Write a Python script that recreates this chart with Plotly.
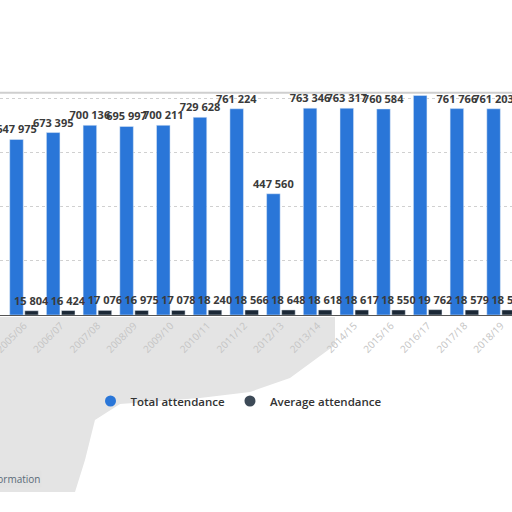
import plotly.graph_objects as go

seasons = ["2005/06", "2006/07", "2007/08", "2008/09", "2009/10", "2010/11", "2011/12",
           "2012/13", "2013/14", "2014/15", "2015/16", "2016/17", "2017/18", "2018/19", "2019/20"]
total_attendance = [647975, 673395, 700136, 695997, 700211, 729628, 761224, 447560,
                    763346, 763317, 760584, 810242, 761766, 761203, 648110]
average_attendance = [15804, 16424, 17076, 16975, 17078, 18240, 18566, 18648,
                      18618, 18617, 18550, 19762, 18579, 18566, 18519]

BLUE = "#2a76d8"
DARK = "#1b2836"
LABEL_FONT = dict(family="Open Sans", size=11, color="#3a3a3a", weight="bold")

W, H = 512, 512
T, B = 95, 197           # plot area spans y 95..315


def paper(xp, yp):
    """pixel -> paper coords"""
    return xp / W, (315 - yp) / 220


# the label over the tallest bar is hidden in the reference
total_textpos = ["none" if v == max(total_attendance) else "outside" for v in total_attendance]

fig = go.Figure()
fig.add_trace(go.Bar(
    x=seasons, y=total_attendance, name="Total attendance", marker_color=BLUE,
    texttemplate="%{y:,}", textposition=total_textpos, textfont=LABEL_FONT,
    constraintext="none", cliponaxis=False, showlegend=False,
))
fig.add_trace(go.Bar(
    x=seasons, y=average_attendance, name="Average attendance", marker_color=DARK,
    texttemplate="%{y:,}", textposition="outside", textfont=LABEL_FONT,
    constraintext="none", cliponaxis=False, showlegend=False,
))
# legend entries with round markers
fig.add_trace(go.Scatter(x=[None], y=[None], mode="markers", name="Total attendance",
                         marker=dict(color=BLUE, size=11)))
fig.add_trace(go.Scatter(x=[None], y=[None], mode="markers", name="Average attendance",
                         marker=dict(color="#3d4a57", size=11)))

# soft grey smudge below the axis, as in the reference
blob_pts = [(0, 317), (335, 317), (335, 345), (290, 378), (250, 392), (200, 398),
            (120, 404), (95, 420), (85, 460), (75, 492), (0, 492)]
pp = [paper(x, y) for x, y in blob_pts]
blob_path = "M " + " L ".join(f"{x:.4f},{y:.4f}" for x, y in pp) + " Z"

ax, ay = paper(42, 479)
lx, ly = paper(239, 401)

fig.update_layout(
    width=W, height=H,
    margin=dict(l=0, r=0, t=T, b=B, autoexpand=False),
    paper_bgcolor="white", plot_bgcolor="white",
    barmode="group", bargap=0.18, bargroupgap=0.1,
    separators=". ",
    legend=dict(orientation="h", x=lx, xanchor="center", y=ly, yanchor="middle",
                font=dict(family="Open Sans", size=11.5, color="#333333", weight=600),
                itemwidth=30, bgcolor="rgba(0,0,0,0)"),
    xaxis=dict(type="category", range=[-0.654, 13.297], tickangle=-45, automargin=False,
               tickfont=dict(family="Open Sans", size=10, color="#c4c4c4"),
               showline=True, linecolor="#555555", linewidth=1, ticks="",
               showgrid=False),
    yaxis=dict(range=[0, 812000], dtick=200000, showticklabels=False, automargin=False,
               gridcolor="#d0d0d0", griddash="dot", gridwidth=1, zeroline=False,
               showline=False),
    annotations=[dict(text="Additional Information", xref="paper", yref="paper",
                      x=ax, y=ay, xanchor="right", yanchor="middle", showarrow=False,
                      bgcolor="#e2e2e2",
                      font=dict(family="Open Sans", size=10, color="#5a6a78"))],
    shapes=[
        dict(type="path", xref="paper", yref="paper", path=blob_path,
             fillcolor="#e4e4e4", line=dict(width=0), layer="below"),
        dict(type="line", xref="paper", yref="paper", x0=0, x1=1, y0=1.01, y1=1.01,
             line=dict(color="#cfcfcf", width=2)),
    ],
)

fig.write_html("out.html", config={"displayModeBar": False},
               post_script="document.body.style.margin='0';")
